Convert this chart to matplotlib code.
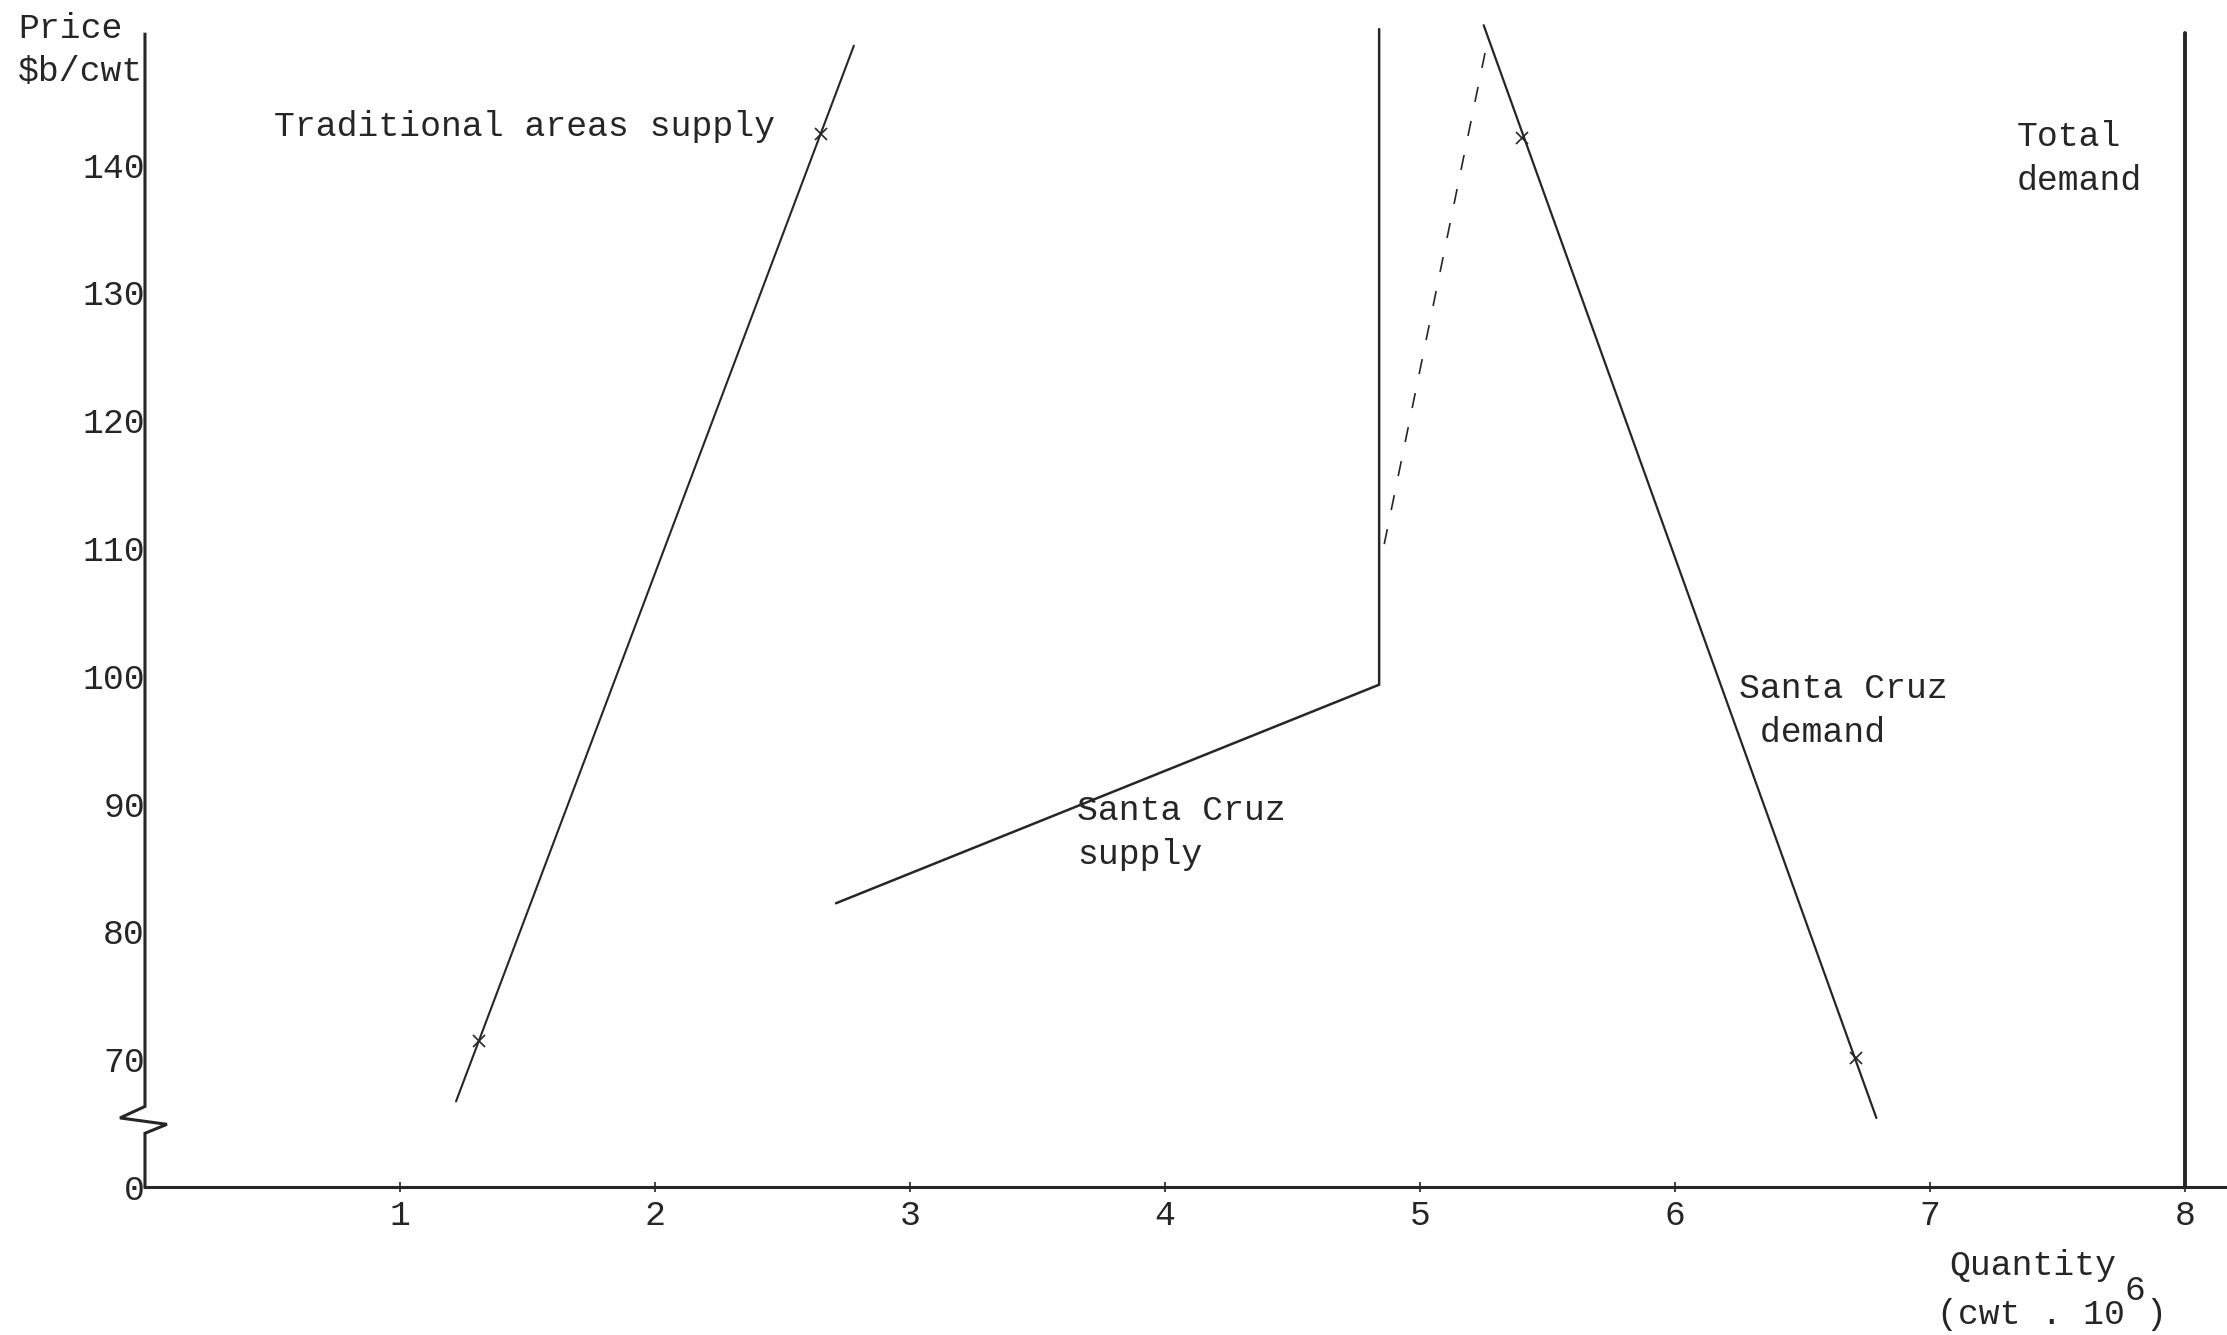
import matplotlib
matplotlib.use("Agg")
import matplotlib.pyplot as plt

plt.rcParams["font.family"] = ["Liberation Mono", "DejaVu Sans Mono"]
plt.rcParams["lines.scale_dashes"] = False

INK = "#262626"
FS = 25

# broken price axis: the "0" level is drawn where 60 would be
AXIS_FLOOR = 60
Y_TOP = 150.2

# --- data (quantity in cwt . 10^6, price in $b/cwt) ---
trad_q = [1.22, 2.78]
trad_p = [66.7, 149.3]
trad_mark_q = [1.31, 2.65]
trad_mark_p = [71.4, 142.4]

sc_supply_q = [2.71, 4.84, 4.84]
sc_supply_p = [82.2, 99.3, 150.6]

shift_q = [4.86, 5.26]
shift_p = [110.3, 149.2]

sc_demand_q = [5.25, 6.79]
sc_demand_p = [150.9, 65.4]
sc_mark_q = [5.40, 6.71]
sc_mark_p = [142.1, 70.1]

total_demand_q = [8.0, 8.0]
total_demand_p = [AXIS_FLOOR, 150.3]

x_ticks = [1, 2, 3, 4, 5, 6, 7, 8]
y_ticks = [60, 70, 80, 90, 100, 110, 120, 130, 140]
y_tick_labels = ["0", "70", "80", "90", "100", "110", "120", "130", "140"]

labels = [
    ("Traditional areas supply", 0.507, 143.0),
    ("Santa Cruz\nsupply", 3.655, 87.7),
    ("Santa Cruz\n demand", 6.25, 97.3),
    ("Total\ndemand", 7.34, 140.5),
]

fig = plt.figure(figsize=(22.27, 13.35), dpi=100)
ax = fig.add_axes([0.0651, 0.1109, 0.9349, 0.8816])
ax.set_xlim(0, 8.165)
ax.set_ylim(AXIS_FLOOR, AXIS_FLOOR + 0.8816 * 1335 / 12.78)

line_kw = dict(color=INK, solid_capstyle="round")
ax.plot(trad_q, trad_p, lw=1.5, **line_kw)
ax.plot(trad_mark_q, trad_mark_p, ls="none", marker="x", ms=9, mew=1.2, color=INK)
ax.plot(sc_supply_q, sc_supply_p, lw=1.8, **line_kw)
ax.plot(shift_q, shift_p, lw=1.2, color=INK, dashes=(11, 14))
ax.plot(sc_demand_q, sc_demand_p, lw=1.6, **line_kw)
ax.plot(sc_mark_q, sc_mark_p, ls="none", marker="x", ms=9, mew=1.2, color=INK)
ax.plot(total_demand_q, total_demand_p, lw=2.8, **line_kw)

for txt, q, p in labels:
    ax.text(q, p, txt, fontsize=FS, color=INK, ha="left", va="center", linespacing=1.42)

# axes: bottom spine kept, left axis drawn by hand with a break mark
for side in ["top", "right", "left"]:
    ax.spines[side].set_visible(False)
ax.spines["bottom"].set_linewidth(2.2)
ax.spines["bottom"].set_color(INK)

brk_q = [0, 0, -0.098, 0.086, 0, 0]
brk_p = [Y_TOP, 66.3, 65.4, 64.9, 64.2, AXIS_FLOOR]
ax.plot(brk_q, brk_p, color=INK, lw=2.2, clip_on=False, solid_joinstyle="miter")

ax.set_xticks(x_ticks)
ax.set_xticklabels([str(t) for t in x_ticks])
ax.tick_params(axis="x", direction="inout", length=7, width=1.2, pad=5,
               labelsize=FS, colors=INK)
ax.set_yticks(y_ticks)
ax.set_yticklabels(y_tick_labels)
ax.tick_params(axis="y", length=0, pad=0, labelsize=FS, colors=INK)

fig.text(0.0081, 0.979, "Price", fontsize=FS, color=INK, va="center")
fig.text(0.0081, 0.9468, "$b/cwt", fontsize=FS, color=INK, va="center")

fig.text(0.8755, 0.0524, "Quantity", fontsize=FS, color=INK, va="center")
fig.text(0.8700, 0.0150, "(cwt . 10", fontsize=FS, color=INK, va="center")
fig.text(0.9540, 0.0330, "6", fontsize=FS, color=INK, va="center")
fig.text(0.9635, 0.0150, ")", fontsize=FS, color=INK, va="center")

fig.savefig("out.png", dpi=100, facecolor="white")
